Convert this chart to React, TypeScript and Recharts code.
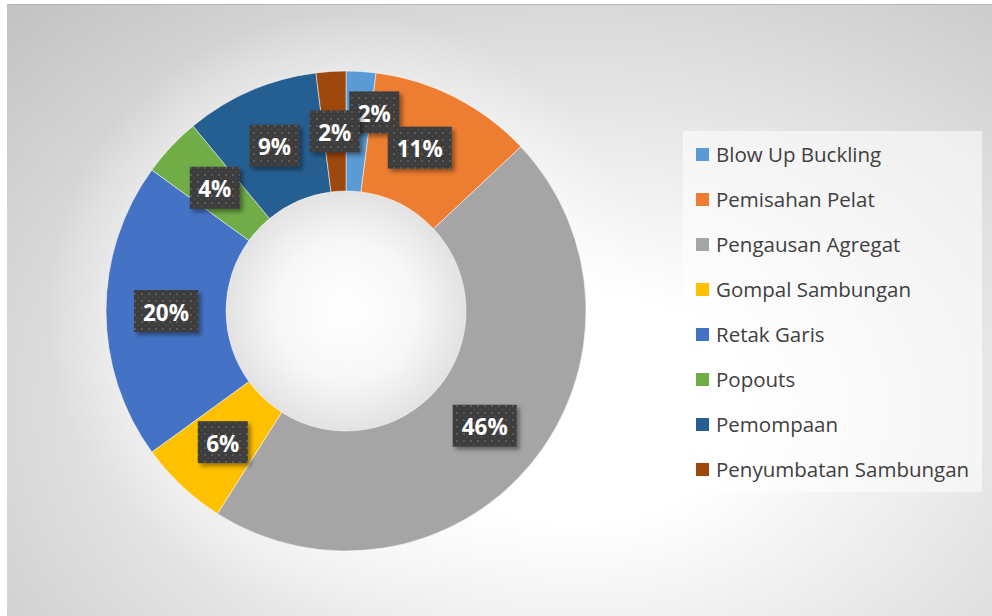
import { PieChart, Pie, Cell, Legend } from "recharts";

const categories = [
  "Blow Up Buckling",
  "Pemisahan Pelat",
  "Pengausan Agregat",
  "Gompal Sambungan",
  "Retak Garis",
  "Popouts",
  "Pemompaan",
  "Penyumbatan Sambungan",
];
const shares = [2, 11, 46, 6, 20, 4, 9, 2];
const colors = ["#5B9BD5", "#ED7D31", "#A5A5A5", "#FFC000", "#4472C4", "#70AD47", "#255E91", "#9E480E"];

const data = categories.map((name, i) => ({ name, value: shares[i] }));

const RAD = Math.PI / 180;
const FONT = "'Open Sans', Lato, sans-serif";

// excel shoved a couple of labels off their neighbours
const nudges: Record<number, [number, number]> = { 0: [17, -19], 1: [-8, -3] };

function renderLabel(props: any) {
  const { cx, cy, midAngle, innerRadius, outerRadius, percent, index } = props;
  const r = (innerRadius + outerRadius) / 2;
  const [nx, ny] = nudges[index] ?? [0, 0];
  const x = cx + r * Math.cos(-midAngle * RAD) + nx;
  const y = cy + r * Math.sin(-midAngle * RAD) + ny;
  const text = `${Math.round(percent * 100)}%`;
  const w = 22 + text.length * 14;
  const h = 42;
  return (
    <g key={`lbl-${index}`}>
      <rect x={x - w / 2} y={y - h / 2} width={w} height={h} fill="url(#lblDots)" filter="url(#lblShadow)" />
      <text
        x={x}
        y={y + 1}
        textAnchor="middle"
        dominantBaseline="central"
        fill="#ffffff"
        fontFamily={FONT}
        fontWeight={700}
        fontSize={22.5}
      >
        {text}
      </text>
    </g>
  );
}

function LegendBox() {
  return (
    <div
      style={{
        width: 299,
        height: 361,
        background: "rgba(255,255,255,0.55)",
        position: "relative",
        fontFamily: FONT,
      }}
    >
      {categories.map((name, i) => (
        <div
          key={name}
          style={{
            position: "absolute",
            left: 13,
            top: 23 + i * 45 - 14,
            height: 28,
            display: "flex",
            alignItems: "center",
            whiteSpace: "nowrap",
          }}
        >
          <span style={{ width: 13, height: 13, background: colors[i], display: "inline-block", marginRight: 7 }} />
          <span style={{ fontSize: 20.5, color: "#404040" }}>{name}</span>
        </div>
      ))}
    </div>
  );
}

export default function App() {
  const cx = 339;
  const cy = 306;
  return (
    <div
      style={{
        position: "absolute",
        left: 7,
        top: 4,
        width: 985,
        height: 611,
        borderTop: "1px solid #b4b4b4",
        background: [
          `radial-gradient(circle at ${cx}px ${cy}px, #ffffff 0px, #f7f7f7 70px, #e2e2e2 121px, rgba(255,255,255,0) 123px)`,
          `radial-gradient(circle at ${cx}px ${cy}px, rgba(255,255,255,0.35) 238px, rgba(255,255,255,0) 300px)`,
          "radial-gradient(ellipse farthest-corner at 58% 66%, #ffffff 0%, #ffffff 20%, #c2c2c2 100%)",
        ].join(", "),
      }}
    >
      <svg width={0} height={0} style={{ position: "absolute" }}>
        <defs>
          <pattern id="lblDots" width="7" height="7" patternUnits="userSpaceOnUse">
            <rect width="7" height="7" fill="#3d3d3d" />
            <rect x="1" y="1" width="2" height="2" fill="#5a5a5a" />
            <rect x="4.5" y="4.5" width="1.5" height="1.5" fill="#4c4c4c" />
          </pattern>
          <filter id="lblShadow" x="-20%" y="-20%" width="150%" height="160%">
            <feDropShadow dx="3" dy="3" stdDeviation="2" floodColor="#000" floodOpacity="0.4" />
          </filter>
        </defs>
      </svg>
      <PieChart width={985} height={611} margin={{ top: 0, right: 0, bottom: 0, left: 0 }}>
        <Pie
          data={data}
          dataKey="value"
          nameKey="name"
          cx={cx}
          cy={cy}
          innerRadius={120}
          outerRadius={240}
          startAngle={90}
          endAngle={-270}
          stroke="#ffffff"
          strokeWidth={0.5}
          label={renderLabel}
          labelLine={false}
          isAnimationActive={false}
        >
          {data.map((d, i) => (
            <Cell key={d.name} fill={colors[i]} />
          ))}
        </Pie>
        <Legend
          layout="vertical"
          align="right"
          verticalAlign="top"
          wrapperStyle={{ position: "absolute", left: 676, top: 126, width: 299, height: 361 }}
          content={() => <LegendBox />}
        />
      </PieChart>
    </div>
  );
}
